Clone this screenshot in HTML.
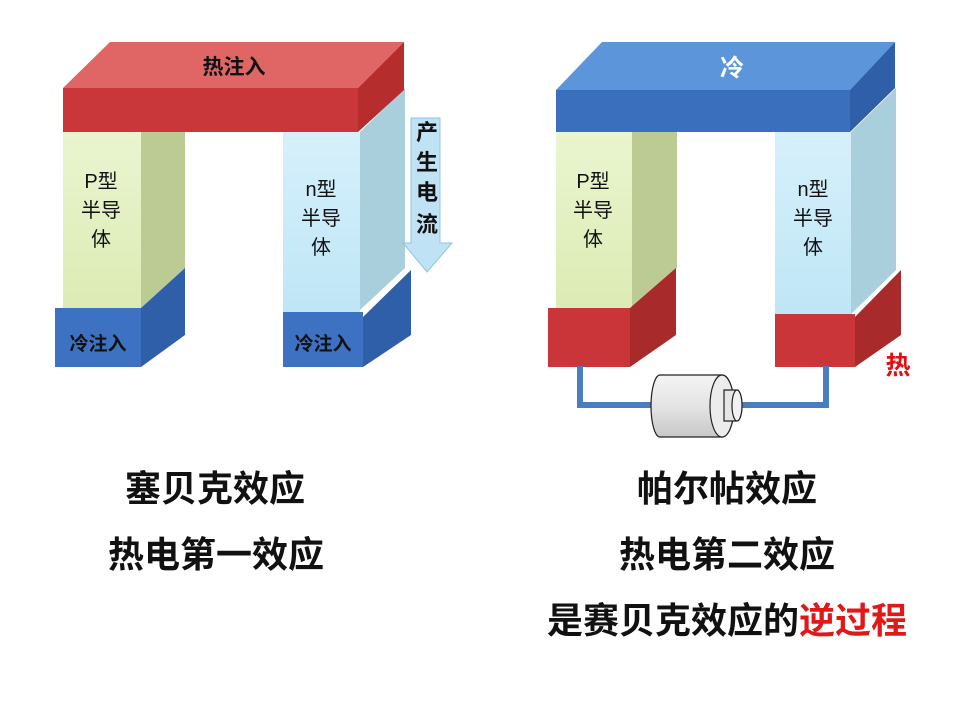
<!DOCTYPE html>
<html><head><meta charset="utf-8"><style>
html,body{margin:0;padding:0;background:#fff;}
svg{display:block;}
text{font-family:"Liberation Sans","Noto Sans CJK SC",sans-serif;}
.b{font-weight:bold;}
</style></head><body>
<svg width="960" height="720" viewBox="0 0 960 720" xmlns="http://www.w3.org/2000/svg">
<defs>
<linearGradient id="gfront" x1="0" y1="0" x2="0" y2="1"><stop offset="0" stop-color="#eaf5cf"/><stop offset="1" stop-color="#dcebb4"/></linearGradient>
<linearGradient id="bfront" x1="0" y1="0" x2="0" y2="1"><stop offset="0" stop-color="#d6f0fb"/><stop offset="1" stop-color="#bfe6f6"/></linearGradient>
<linearGradient id="motor" x1="0" y1="0" x2="0" y2="1"><stop offset="0" stop-color="#f4f4f4"/><stop offset="0.5" stop-color="#e4e4e4"/><stop offset="1" stop-color="#c8c8c8"/></linearGradient>
</defs>

<polygon points="360,132 405,88 405,268 360,310" fill="#a9cfdc"/>
<rect x="283" y="132" width="77" height="180" fill="url(#bfront)"/>
<polygon points="141,132 185,88 185,268 141,308" fill="#bccb94"/>
<rect x="63" y="132" width="78" height="178" fill="url(#gfront)"/>
<polygon points="63,88 110,42 404,42 358,88" fill="#e06666"/>
<polygon points="358,88 404,42 404,90 358,132" fill="#b52d2d"/>
<rect x="63" y="88" width="295" height="44" fill="#c9373a"/>
<text x="234" y="74" font-size="21" class="b" text-anchor="middle" fill="#111">热注入</text>
<polygon points="141,308 185,268 185,335 141,367" fill="#2f5fa8"/>
<rect x="55" y="308" width="86" height="59" fill="#3d72c2"/>
<text x="98" y="350" font-size="19" class="b" text-anchor="middle" fill="#111">冷注入</text>
<polygon points="363,317 411,270 411,335 363,367" fill="#2f5fa8"/>
<rect x="283" y="312" width="80" height="55" fill="#3d72c2"/>
<text x="323" y="350" font-size="19" class="b" text-anchor="middle" fill="#111">冷注入</text>
<g font-size="20" fill="#111" text-anchor="middle">
<text x="101" y="188">P型</text><text x="101" y="217">半导</text><text x="101" y="246">体</text>
<text x="321" y="196">n型</text><text x="321" y="225">半导</text><text x="321" y="254">体</text>
</g>
<polygon points="411,118 440,118 440,243 452,243 427,272 403,243 411,243" fill="#bfe3f5" stroke="#8cc4e0" stroke-width="1"/>
<g font-size="22" class="b" text-anchor="middle" fill="#111">
<text x="427" y="140">产</text><text x="427" y="170">生</text><text x="427" y="200">电</text><text x="427" y="232">流</text>
</g>

<polygon points="851,132 896,88 896,270 851,314" fill="#a9cfdc"/>
<rect x="775" y="132" width="76" height="184" fill="url(#bfront)"/>
<polygon points="632,132 677,88 677,268 632,308" fill="#bccb94"/>
<rect x="556" y="132" width="76" height="178" fill="url(#gfront)"/>
<polygon points="556,90 602,42 895,42 850,90" fill="#5d95da"/>
<polygon points="850,90 895,42 895,88 850,132" fill="#2f5fa8"/>
<rect x="556" y="90" width="294" height="42" fill="#3a6fbd"/>
<text x="732" y="76" font-size="24" class="b" text-anchor="middle" fill="#fff">冷</text>
<polygon points="630,308 676,268 676,335 630,367" fill="#a82a2a"/>
<rect x="548" y="308" width="82" height="59" fill="#c93539"/>
<polygon points="855,317 901,270 901,335 855,367" fill="#a82a2a"/>
<rect x="775" y="314" width="80" height="53" fill="#c93539"/>
<text x="898" y="374" font-size="25" class="b" text-anchor="middle" fill="#e01010">热</text>
<g font-size="20" fill="#111" text-anchor="middle">
<text x="593" y="188">P型</text><text x="593" y="217">半导</text><text x="593" y="246">体</text>
<text x="813" y="196">n型</text><text x="813" y="225">半导</text><text x="813" y="254">体</text>
</g>
<polyline points="580,366 580,405 826,405 826,366" fill="none" stroke="#4a7cc0" stroke-width="6"/>
<path d="M660,375 L722,375 A12,31 0 0 1 722,437 L660,437 A9,31 0 0 1 660,375 Z" fill="url(#motor)" stroke="#222" stroke-width="1.2"/>
<ellipse cx="722" cy="406" rx="12" ry="31" fill="#ececec" stroke="#222" stroke-width="1.2"/>
<path d="M724,390 L737,390 A5,15.5 0 0 1 737,421 L724,421 Z" fill="#e6e6e6" stroke="#222" stroke-width="1.2"/>
<ellipse cx="737" cy="405.5" rx="5" ry="15.5" fill="#f2f2f2" stroke="#222" stroke-width="1.2"/>

<g font-size="36" class="b" text-anchor="middle" fill="#111">
<text x="215" y="501">塞贝克效应</text>
<text x="216" y="567">热电第一效应</text>
<text x="727" y="501">帕尔帖效应</text>
<text x="727" y="567">热电第二效应</text>
<text x="727" y="633">是赛贝克效应的<tspan fill="#e01818">逆过程</tspan></text>
</g>
</svg>
</body></html>
